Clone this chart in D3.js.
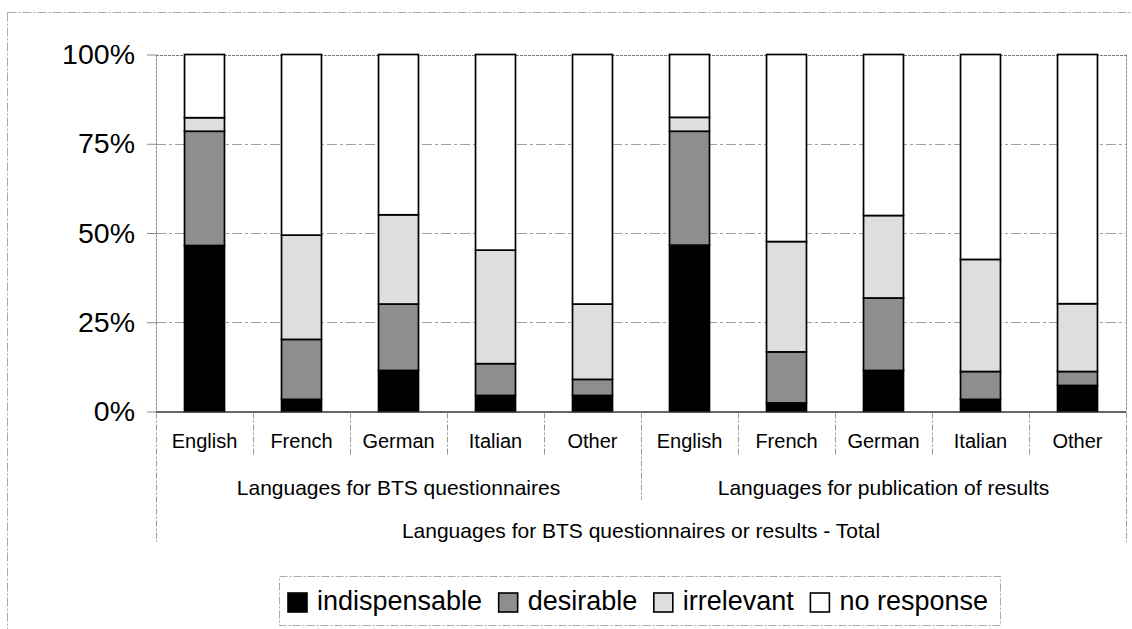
<!DOCTYPE html>
<html>
<head>
<meta charset="utf-8">
<script src="https://cdn.jsdelivr.net/npm/d3@7"></script>
<style>
  html, body { margin: 0; padding: 0; background: #fff; }
  svg { display: block; font-family: "Liberation Sans", Arial, sans-serif; }
</style>
</head>
<body>
<svg id="chart" width="1132" height="629"></svg>
<script>
// ---- data ----
const categories = ["English", "French", "German", "Italian", "Other", "English", "French", "German", "Italian", "Other"];
const groupLabels = ["Languages for BTS questionnaires", "Languages for publication of results"];
const totalLabel = "Languages for BTS questionnaires or results - Total";
const seriesNames = ["indispensable", "desirable", "irrelevant", "no response"];
const indispensable = [46.5, 3.4, 11.5, 4.5, 4.5, 46.6, 2.4, 11.5, 3.4, 7.3];
const desirable     = [32.0, 16.8, 18.6, 8.9, 4.5, 31.9, 14.3, 20.3, 7.8, 3.9];
const irrelevant    = [3.8, 29.2, 25.0, 31.8, 21.1, 3.9, 30.9, 23.1, 31.4, 19.0];
const noResponse    = indispensable.map((v, i) => +(100 - v - desirable[i] - irrelevant[i]).toFixed(1));
const yTicks = [0, 25, 50, 75, 100];

// ---- styling ----
const colors = ["#000000", "#8e8e8e", "#dedede", "#ffffff"];
const svg = d3.select("#chart");
const plot = { left: 156, right: 1126, top: 54.5, bottom: 411.5 };

const rows = categories.map((c, i) => ({
  idx: i, cat: c,
  "indispensable": indispensable[i],
  "desirable": desirable[i],
  "irrelevant": irrelevant[i],
  "no response": noResponse[i]
}));

const x = d3.scaleBand().domain(d3.range(categories.length))
  .range([plot.left, plot.right]).paddingInner(0.588).paddingOuter(0.294);
const step = x.step();
const y = d3.scaleLinear().domain([0, 100]).range([plot.bottom, plot.top]);

// outer chart frame (partially visible)
svg.append("line").attr("x1", 7.5).attr("x2", 7.5).attr("y1", 12.5).attr("y2", 629)
  .attr("stroke", "#aaa").attr("stroke-dasharray", "9,2,2,2");
svg.append("line").attr("x1", 7.5).attr("x2", 1132).attr("y1", 12.5).attr("y2", 12.5)
  .attr("stroke", "#aaa").attr("stroke-dasharray", "9,2,2,2");

// gridlines
svg.append("g").selectAll("line").data(yTicks.filter(d => d > 0)).join("line")
  .attr("x1", plot.left).attr("x2", plot.right)
  .attr("y1", d => Math.round(y(d)) + 0.5).attr("y2", d => Math.round(y(d)) + 0.5)
  .attr("stroke", d => d === 100 ? "#777" : "#a0a0a0")
  .attr("stroke-dasharray", d => d === 100 ? "3,1" : "10,3,3,3");

// plot area sides
[plot.left, plot.right].forEach(px => {
  svg.append("line").attr("x1", px + 0.5).attr("x2", px + 0.5)
    .attr("y1", plot.top).attr("y2", plot.bottom)
    .attr("stroke", "#888").attr("stroke-dasharray", "3,1");
});

// y axis
const yAxis = svg.append("g").attr("transform", `translate(${plot.left},0)`)
  .call(d3.axisLeft(y).tickValues(yTicks).tickFormat(d => d + "%").tickSize(9).tickPadding(12));
yAxis.select(".domain").remove();
yAxis.selectAll(".tick line").attr("stroke", "#888");
yAxis.selectAll(".tick text").attr("font-size", 28.5).attr("fill", "#000")
  .attr("font-family", "Liberation Sans, Arial, sans-serif");

// stacked bars
const stack = d3.stack().keys(seriesNames);
const layers = stack(rows);
svg.append("g").selectAll("g").data(layers).join("g")
  .attr("fill", (d, i) => colors[i])
  .selectAll("rect").data(d => d).join("rect")
  .attr("x", d => x(d.data.idx))
  .attr("width", x.bandwidth())
  .attr("y", d => y(d[1]))
  .attr("height", d => Math.max(0, y(d[0]) - y(d[1])))
  .attr("stroke", "#000").attr("stroke-width", 1.7);

// x baseline
svg.append("line").attr("x1", plot.left).attr("x2", plot.right)
  .attr("y1", plot.bottom + 0.5).attr("y2", plot.bottom + 0.5)
  .attr("stroke", "#333").attr("stroke-width", 1.5);

// category separators (multi-level axis)
const boundaries = d3.range(categories.length + 1);
svg.append("g").selectAll("line").data(boundaries).join("line")
  .attr("x1", i => (i === categories.length ? plot.right : x(i) - step * 0.294) + 0.5)
  .attr("x2", i => (i === categories.length ? plot.right : x(i) - step * 0.294) + 0.5)
  .attr("y1", plot.bottom + 1)
  .attr("y2", i => (i === 0 || i === categories.length) ? 542 : (i === 5 ? 500 : 455))
  .attr("stroke", "#999").attr("stroke-dasharray", "6,2,2,2");

// category labels
svg.append("g").selectAll("text").data(rows).join("text")
  .attr("x", d => x(d.idx) + x.bandwidth() / 2)
  .attr("y", 448)
  .attr("text-anchor", "middle")
  .attr("font-size", 20)
  .text(d => d.cat);

// group labels
groupLabels.forEach((g, gi) => {
  const x0 = x(gi * 5) - step * 0.294;
  const x1 = x0 + step * 5;
  svg.append("text").attr("x", (x0 + x1) / 2).attr("y", 495)
    .attr("text-anchor", "middle").attr("font-size", 21).text(g);
});
svg.append("text").attr("x", (plot.left + plot.right) / 2).attr("y", 538)
  .attr("text-anchor", "middle").attr("font-size", 21).text(totalLabel);

// legend
const legend = svg.append("g");
legend.append("rect").attr("x", 279.5).attr("y", 576.5).attr("width", 721).attr("height", 49)
  .attr("fill", "none").attr("stroke", "#aaa").attr("stroke-dasharray", "8,2,2,2");
const startX = 288, endX = 988, sq = 19, gapAfterSq = 10;
const items = legend.selectAll("g.item").data(seriesNames).join("g").attr("class", "item");
items.append("rect").attr("width", sq).attr("height", sq).attr("y", 593)
  .attr("fill", (d, i) => colors[i]).attr("stroke", "#000").attr("stroke-width", 1.6);
const texts = items.append("text").attr("y", 610).attr("font-size", 27).text(d => d);
const widths = [];
texts.each(function () { widths.push(this.getComputedTextLength()); });
const totalW = d3.sum(widths) + seriesNames.length * (sq + gapAfterSq);
const between = (endX - startX - totalW) / (seriesNames.length - 1);
let cx = startX;
items.each(function (d, i) {
  const g = d3.select(this);
  g.select("rect").attr("x", cx);
  g.select("text").attr("x", cx + sq + gapAfterSq);
  cx += sq + gapAfterSq + widths[i] + between;
});
</script>
</body>
</html>
